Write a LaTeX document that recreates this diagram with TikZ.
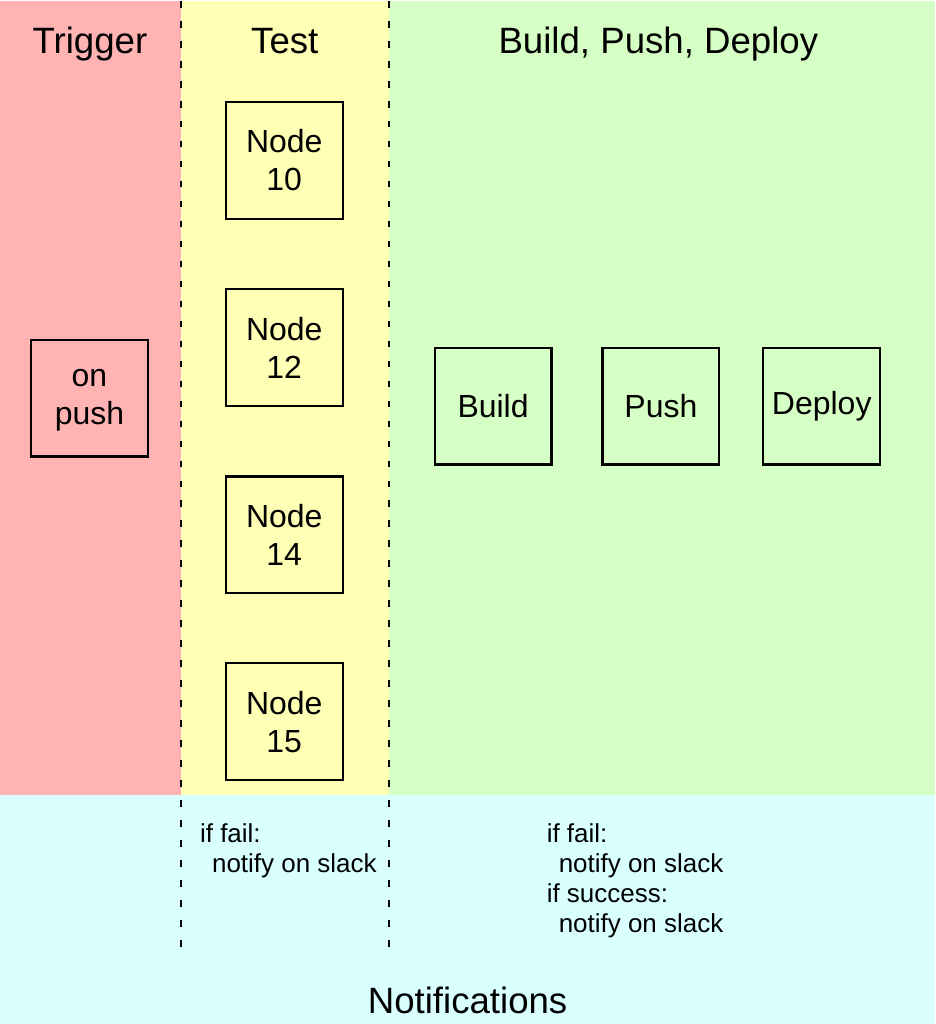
\documentclass[tikz,border=0pt]{standalone}
\usepackage{fontspec}
\setmainfont{Liberation Sans}
\definecolor{triggerbg}{HTML}{FFB3B3}
\definecolor{testbg}{HTML}{FFFFB5}
\definecolor{buildbg}{HTML}{D6FFC5}
\definecolor{notifybg}{HTML}{D9FFFF}
\begin{document}
\begin{tikzpicture}[x=0.75pt, y=-0.75pt,
	stage/.style={draw, line width=1.6pt, minimum size=87.75pt, inner sep=0pt, align=center,
		font=\fontsize{24}{28.5}\selectfont},
	title/.style={anchor=base, font=\fontsize{27.5}{33}\selectfont},
	note/.style={anchor=base west, inner sep=0pt, align=left, font=\fontsize{19.5}{22.5}\selectfont},
	lane/.style={dash pattern=on 5pt off 10pt, line width=1.4pt}]
	% lanes
	\fill [notifybg] (0,0) rectangle (936,1024);
	\fill [triggerbg] (0,0) rectangle (181,795);
	\fill [testbg] (181,0) rectangle (389,795);
	\fill [buildbg] (389,0) rectangle (936,795);
	\coordinate (l1t) at (181,0); \coordinate (l1b) at (181,948);
	\coordinate (l2t) at (389,0); \coordinate (l2b) at (389,948);
	\draw [lane] (l1t) -- (l1b);
	\draw [lane] (l2t) -- (l2b);
	% titles
	\node [title] (trigger) at (90,53) {Trigger};
	\node [title] (test) at (285,53) {Test};
	\node [title] (bpd) at (659,53) {Build, Push, Deploy};
	\node [title] (notif) at (468,1013) {Notifications};
	% stages
	\node [stage] (push) at (89.5,397.5) {\vphantom{N}on\\push};
	\node [stage] (n10) at (284.5,159.5) {Node\\10};
	\node [stage] (n12) at (284.5,347) {Node\\12};
	\node [stage] (n14) at (284.5,534.5) {Node\\14};
	\node [stage] (n15) at (284.5,721.5) {Node\\15};
	\node [stage] (build) at (493.5,405.5) {Build};
	\node [stage] (pushimg) at (661.5,405.5) {Push};
	\node [stage] (deploy) at (822.5,405.5) {Deploy};
	% notifications (base = last line)
	\node [note] (testnote) at (200,872) {if fail:\\\hspace*{9pt}notify on slack};
	\node [note] (bpdnote) at (547,932) {if fail:\\\hspace*{9pt}notify on slack\\if success:\\\hspace*{9pt}notify on slack};
\end{tikzpicture}
\end{document}
